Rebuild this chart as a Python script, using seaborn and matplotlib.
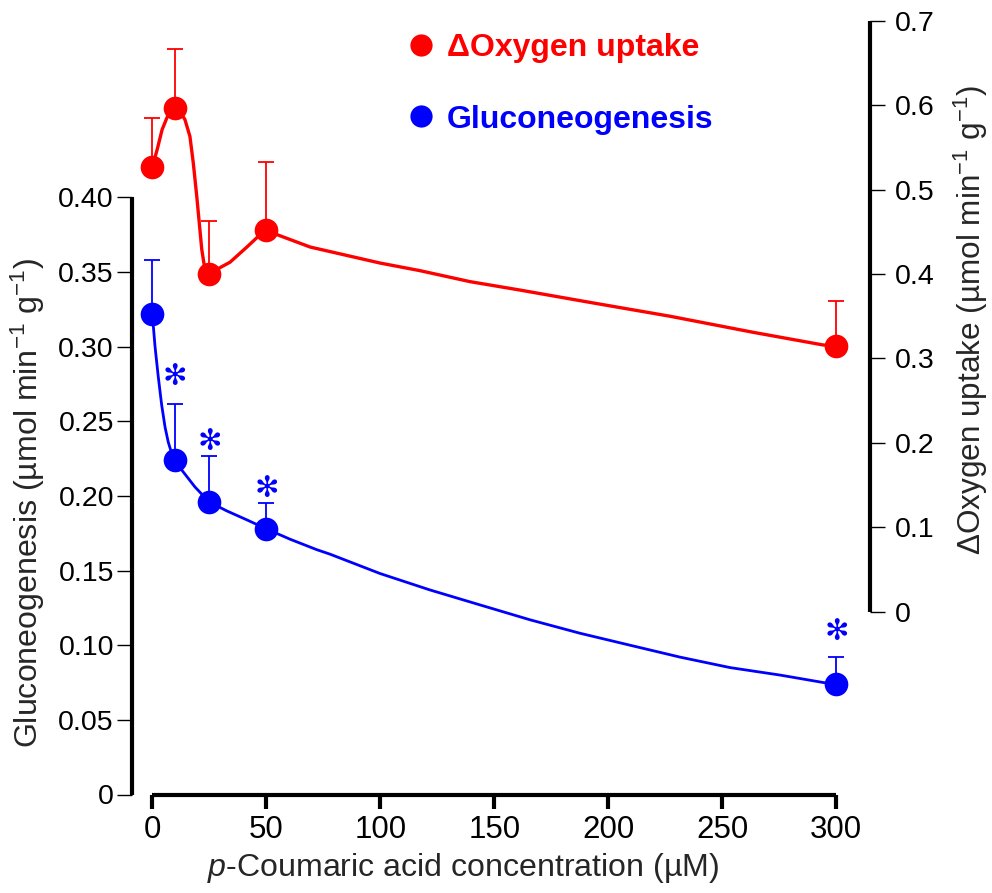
import numpy as np
import pandas as pd
import seaborn as sns
import matplotlib
matplotlib.use("Agg")
import matplotlib.pyplot as plt
from matplotlib.lines import Line2D

# ---------------- data ----------------
conc = [0, 10, 25, 50, 300]
gluco_mean = [0.322, 0.224, 0.196, 0.178, 0.0737]
gluco_err = [0.036, 0.0374, 0.0308, 0.0175, 0.0183]
oxy_mean = [0.527, 0.597, 0.400, 0.452, 0.315]
oxy_err = [0.058, 0.069, 0.063, 0.081, 0.053]

sig_x = [10, 25, 50, 300]
sig_y = [0.2797, 0.236, 0.2045, 0.1088]

# smooth fitted curves as drawn in the reference
gluco_curve_x = [0, 1.2, 2.6, 4.1, 5.6, 7.0, 8.4, 9.6, 13.6, 18.7, 24.9, 32.6, 41.4, 49.9,
                 60.4, 72.1, 77.9, 99.9, 121.8, 143.7, 165.7, 187.6, 209.5, 231.5,
                 253.4, 275.3, 294.3, 300]
gluco_curve_y = [0.322, 0.300, 0.280, 0.261, 0.246, 0.236, 0.229, 0.224, 0.216, 0.206, 0.196,
                 0.190, 0.184, 0.178, 0.171, 0.164, 0.161, 0.148, 0.137, 0.127, 0.117,
                 0.108, 0.100, 0.092, 0.085, 0.080, 0.075, 0.0737]
oxy_curve_x = [0, 2.1, 4.3, 6.4, 9.2, 12.0, 14.3, 16.5, 18.0, 19.5, 20.9, 21.7, 23.1,
               24.5, 34.1, 41.5, 49.4, 69.2, 99.9, 117.4, 139.3, 161.3, 190.7, 227.1,
               263.5, 294.2, 300]
oxy_curve_y = [0.527, 0.547, 0.571, 0.585, 0.597, 0.593, 0.583, 0.563, 0.531, 0.492,
               0.452, 0.429, 0.405, 0.400, 0.414, 0.432, 0.452, 0.432, 0.413, 0.404,
               0.391, 0.381, 0.367, 0.350, 0.331, 0.316, 0.315]

x_ticks = [0, 50, 100, 150, 200, 250, 300]
left_ticks = [0, 0.05, 0.10, 0.15, 0.20, 0.25, 0.30, 0.35, 0.40]
left_ticklabels = ["0", "0.05", "0.10", "0.15", "0.20", "0.25", "0.30", "0.35", "0.40"]
right_ticks = [0, 0.1, 0.2, 0.3, 0.4, 0.5, 0.6, 0.7]
right_ticklabels = ["0", "0.1", "0.2", "0.3", "0.4", "0.5", "0.6", "0.7"]

RED = "#ff0000"
BLUE = "#0000ff"

sns.set_style("white")
plt.rcParams["font.family"] = ["Liberation Sans", "DejaVu Sans"]
plt.rcParams["mathtext.fontset"] = "custom"
plt.rcParams["mathtext.rm"] = "Liberation Sans"
plt.rcParams["mathtext.it"] = "Liberation Sans:italic"
plt.rcParams["mathtext.bf"] = "Liberation Sans:bold"

W, H = 992, 893
fig = plt.figure(figsize=(W / 100, H / 100), dpi=100)
ax_l, ax_r, ax_b, ax_t = 132, 869.7, 794.5, 20
ax = fig.add_axes([ax_l / W, 1 - ax_b / H, (ax_r - ax_l) / W, (ax_b - ax_t) / H])
ax.patch.set_alpha(0)
ax2 = ax.twinx()
ax2.patch.set_alpha(0)

xscale = 2.28
x0px = 152.3
ax.set_xlim(-(x0px - ax_l) / xscale, (ax_r - x0px) / xscale)
lscale = (794.5 - 197.3) / 0.4
ax.set_ylim(0, (ax_b - ax_t) / lscale)
rscale = (611.8 - 20.7) / 0.7
ax2.set_ylim(-(ax_b - 611.8) / rscale, (611.8 - ax_t) / rscale)

# gluconeogenesis (left axis)
ax.errorbar(conc, gluco_mean, yerr=[np.zeros(len(conc)), gluco_err], fmt="none",
            ecolor=BLUE, elinewidth=1.3, capsize=5.8, capthick=1.3, zorder=2)
sns.lineplot(x=gluco_curve_x, y=gluco_curve_y, ax=ax, sort=False, color=BLUE,
             linewidth=2.0, zorder=3)
sns.scatterplot(x=conc, y=gluco_mean, ax=ax, color=BLUE, s=290, linewidth=0,
                zorder=4)
for sx, sy in zip(sig_x, sig_y):
    ax.text(sx, sy, "\u273b", color=BLUE, ha="center", va="center",
            fontsize=21, family="DejaVu Sans", zorder=5)

# oxygen uptake (right axis)
ax2.errorbar(conc, oxy_mean, yerr=[np.zeros(len(conc)), oxy_err], fmt="none",
             ecolor=RED, elinewidth=1.3, capsize=5.8, capthick=1.3, zorder=2)
sns.lineplot(x=oxy_curve_x, y=oxy_curve_y, ax=ax2, sort=False, color=RED,
             linewidth=2.4, zorder=3)
sns.scatterplot(x=conc, y=oxy_mean, ax=ax2, color=RED, s=290, linewidth=0,
                zorder=4)

# spines
for s in ["top", "right"]:
    ax.spines[s].set_visible(False)
for s in ["top", "left", "bottom"]:
    ax2.spines[s].set_visible(False)
ax.spines["left"].set_bounds(0, 0.40)
ax.spines["bottom"].set_bounds(0, 300)
ax2.spines["right"].set_bounds(0, 0.7)
for sp in [ax.spines["left"], ax.spines["bottom"], ax2.spines["right"]]:
    sp.set_linewidth(3.0)
    sp.set_color("black")
    sp.set_capstyle("butt")

ax.set_xticks(x_ticks)
ax.set_xticklabels([str(t) for t in x_ticks])
ax.set_yticks(left_ticks)
ax.set_yticklabels(left_ticklabels)
ax2.set_yticks(right_ticks)
ax2.set_yticklabels(right_ticklabels)

ax.tick_params(axis="x", direction="out", length=10, width=3.0, pad=5,
               labelsize=22.5, colors="black", bottom=True)
ax.tick_params(axis="y", direction="out", length=11, width=1.0, pad=2,
               labelsize=20.5, colors="black", left=True)
ax2.tick_params(axis="y", direction="out", length=11, width=1.0, pad=7,
                labelsize=20.5, colors="black", right=True)
ax.set_xlabel("")
ax.set_ylabel("")
ax2.set_ylabel("")
ax.grid(False)
ax2.grid(False)

fig.text(463 / W, 1 - 868 / H, "$p$-Coumaric acid concentration (\u00b5M)",
         ha="center", va="center", fontsize=23.1)
fig.text(28 / W, 1 - 503 / H,
         "Gluconeogenesis (\u00b5mol min$^{\u22121}$ g$^{\u22121}$)",
         ha="center", va="center", rotation=90, fontsize=23.1)
fig.text(971 / W, 1 - 320 / H,
         "\u0394Oxygen uptake (\u00b5mol min$^{\u22121}$ g$^{\u22121}$)",
         ha="center", va="center", rotation=90, fontsize=22.7)

handles = [Line2D([], [], linestyle="none", marker="o", markersize=16,
                  markerfacecolor=RED, markeredgewidth=0),
           Line2D([], [], linestyle="none", marker="o", markersize=16,
                  markerfacecolor=BLUE, markeredgewidth=0)]
fig.legend(handles, ["\u0394Oxygen uptake", "Gluconeogenesis"],
           loc="upper left", bbox_to_anchor=(407 / W, 1 - 33 / H),
           frameon=False, prop={"weight": "bold", "size": 23},
           labelcolor=[RED, BLUE], handlelength=0.9, handletextpad=0.35,
           labelspacing=1.3, borderpad=0, borderaxespad=0)

fig.savefig("out.png", dpi=100)
